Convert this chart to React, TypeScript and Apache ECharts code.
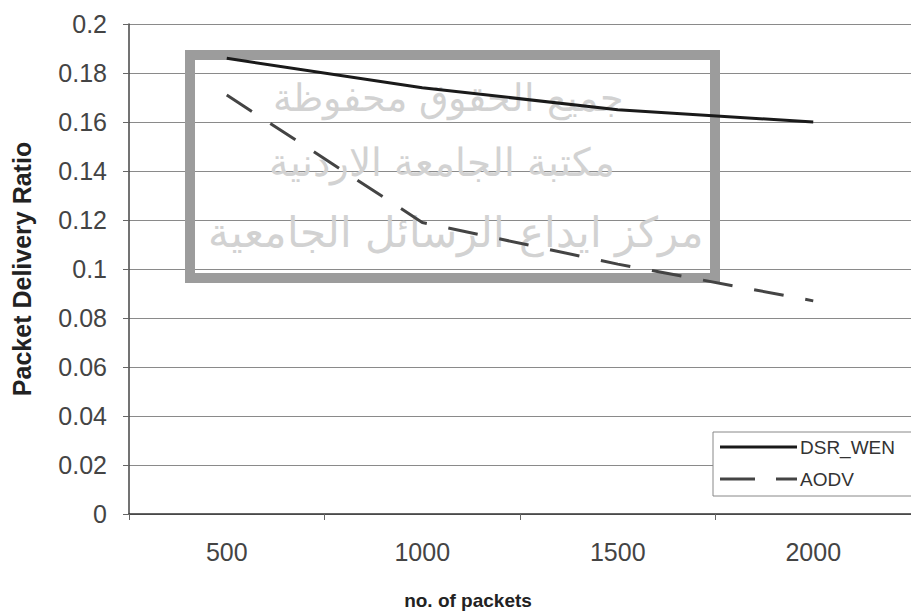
import React, { useEffect, useRef } from "react";
import * as echarts from "echarts";

const categories = ["500", "1000", "1500", "2000"];
const dsrWen = [0.186, 0.174, 0.165, 0.16];
const aodv = [0.171, 0.119, 0.102, 0.087];
const watermarkLines = [
  "جميع الحقوق محفوظة",
  "مكتبة الجامعة الاردنية",
  "مركز ايداع الرسائل الجامعية",
];

export default function App() {
  const ref = useRef<HTMLDivElement>(null);
  useEffect(() => {
    if (!ref.current) return;
    const chart = echarts.init(ref.current, undefined, { renderer: "svg" });
    const font = "Liberation Sans, Arial, sans-serif";
    chart.setOption({
      animation: false,
      backgroundColor: "#ffffff",
      grid: { left: 129, top: 24, right: -10, bottom: 97, containLabel: false },
      xAxis: {
        type: "category",
        data: categories,
        boundaryGap: true,
        name: "no. of packets",
        nameLocation: "middle",
        nameGap: 77,
        nameTextStyle: {
          fontFamily: font,
          fontWeight: "bold",
          fontSize: 19,
          color: "#222",
          padding: [0, 104, 0, 0],
        },
        axisLine: { lineStyle: { color: "#333", width: 1.5 } },
        axisTick: { show: true, length: 6, lineStyle: { color: "#666" }, inside: false },
        axisLabel: { fontFamily: font, fontSize: 25, color: "#444", margin: 25 },
        splitLine: { show: false },
      },
      yAxis: {
        type: "value",
        min: 0,
        max: 0.2,
        interval: 0.02,
        name: "Packet Delivery Ratio",
        nameLocation: "middle",
        nameGap: 95,
        nameTextStyle: {
          fontFamily: font,
          fontWeight: "bold",
          fontSize: 25,
          color: "#222",
        },
        axisLine: { show: true, lineStyle: { color: "#444", width: 1.5 } },
        axisTick: { show: true, length: 6, lineStyle: { color: "#666" } },
        axisLabel: { fontFamily: font, fontSize: 25, color: "#444", margin: 22 },
        splitLine: { show: true, lineStyle: { color: "#8a8a8a", width: 1 } },
      },
      legend: {
        orient: "vertical",
        left: 713,
        top: 432,
        data: [
          { name: "DSR_WEN", icon: "path://M0,0 H77 V3 H0 Z" },
          { name: "AODV", icon: "path://M0,0 H35 V3 H0 Z M56,0 H77 V3 H56 Z" },
        ],
        itemWidth: 77,
        itemHeight: 3,
        itemGap: 12,
        padding: [5, 40, 7, 7],
        borderColor: "#888",
        borderWidth: 1,
        backgroundColor: "#fff",
        textStyle: { fontFamily: font, fontSize: 19, color: "#333", lineHeight: 20, padding: [0, 0, 0, -2] },
      },
      graphic: [
        {
          type: "rect",
          z: 1,
          shape: { x: 190, y: 55, width: 525, height: 223 },
          style: { fill: "none", stroke: "#9c9c9c", lineWidth: 10 },
        },
        ...watermarkLines.map((t, i) => ({
          type: "text",
          z: 1,
          x: [448, 442, 456][i],
          y: [98, 162, 232][i],
          style: {
            text: t,
            fill: "#d2d2d2",
            fontFamily: "DejaVu Sans",
            fontWeight: "lighter",
            fontSize: [38, 39, 42][i],
            textAlign: "center",
            textVerticalAlign: "middle",
          },
        })),
      ],
      series: [
        {
          name: "DSR_WEN",
          type: "line",
          data: dsrWen,
          symbol: "none",
          z: 3,
          lineStyle: { color: "#1a1a1a", width: 3 },
          itemStyle: { color: "#1a1a1a" },
        },
        {
          name: "AODV",
          type: "line",
          data: aodv,
          symbol: "none",
          z: 3,
          lineStyle: { color: "#444", width: 3, type: [30, 22] },
          itemStyle: { color: "#444" },
        },
      ],
    });
    return () => chart.dispose();
  }, []);
  return (
    <div
      ref={ref}
      style={{ position: "fixed", left: 0, top: 0, width: 911, height: 615 }}
    />
  );
}
